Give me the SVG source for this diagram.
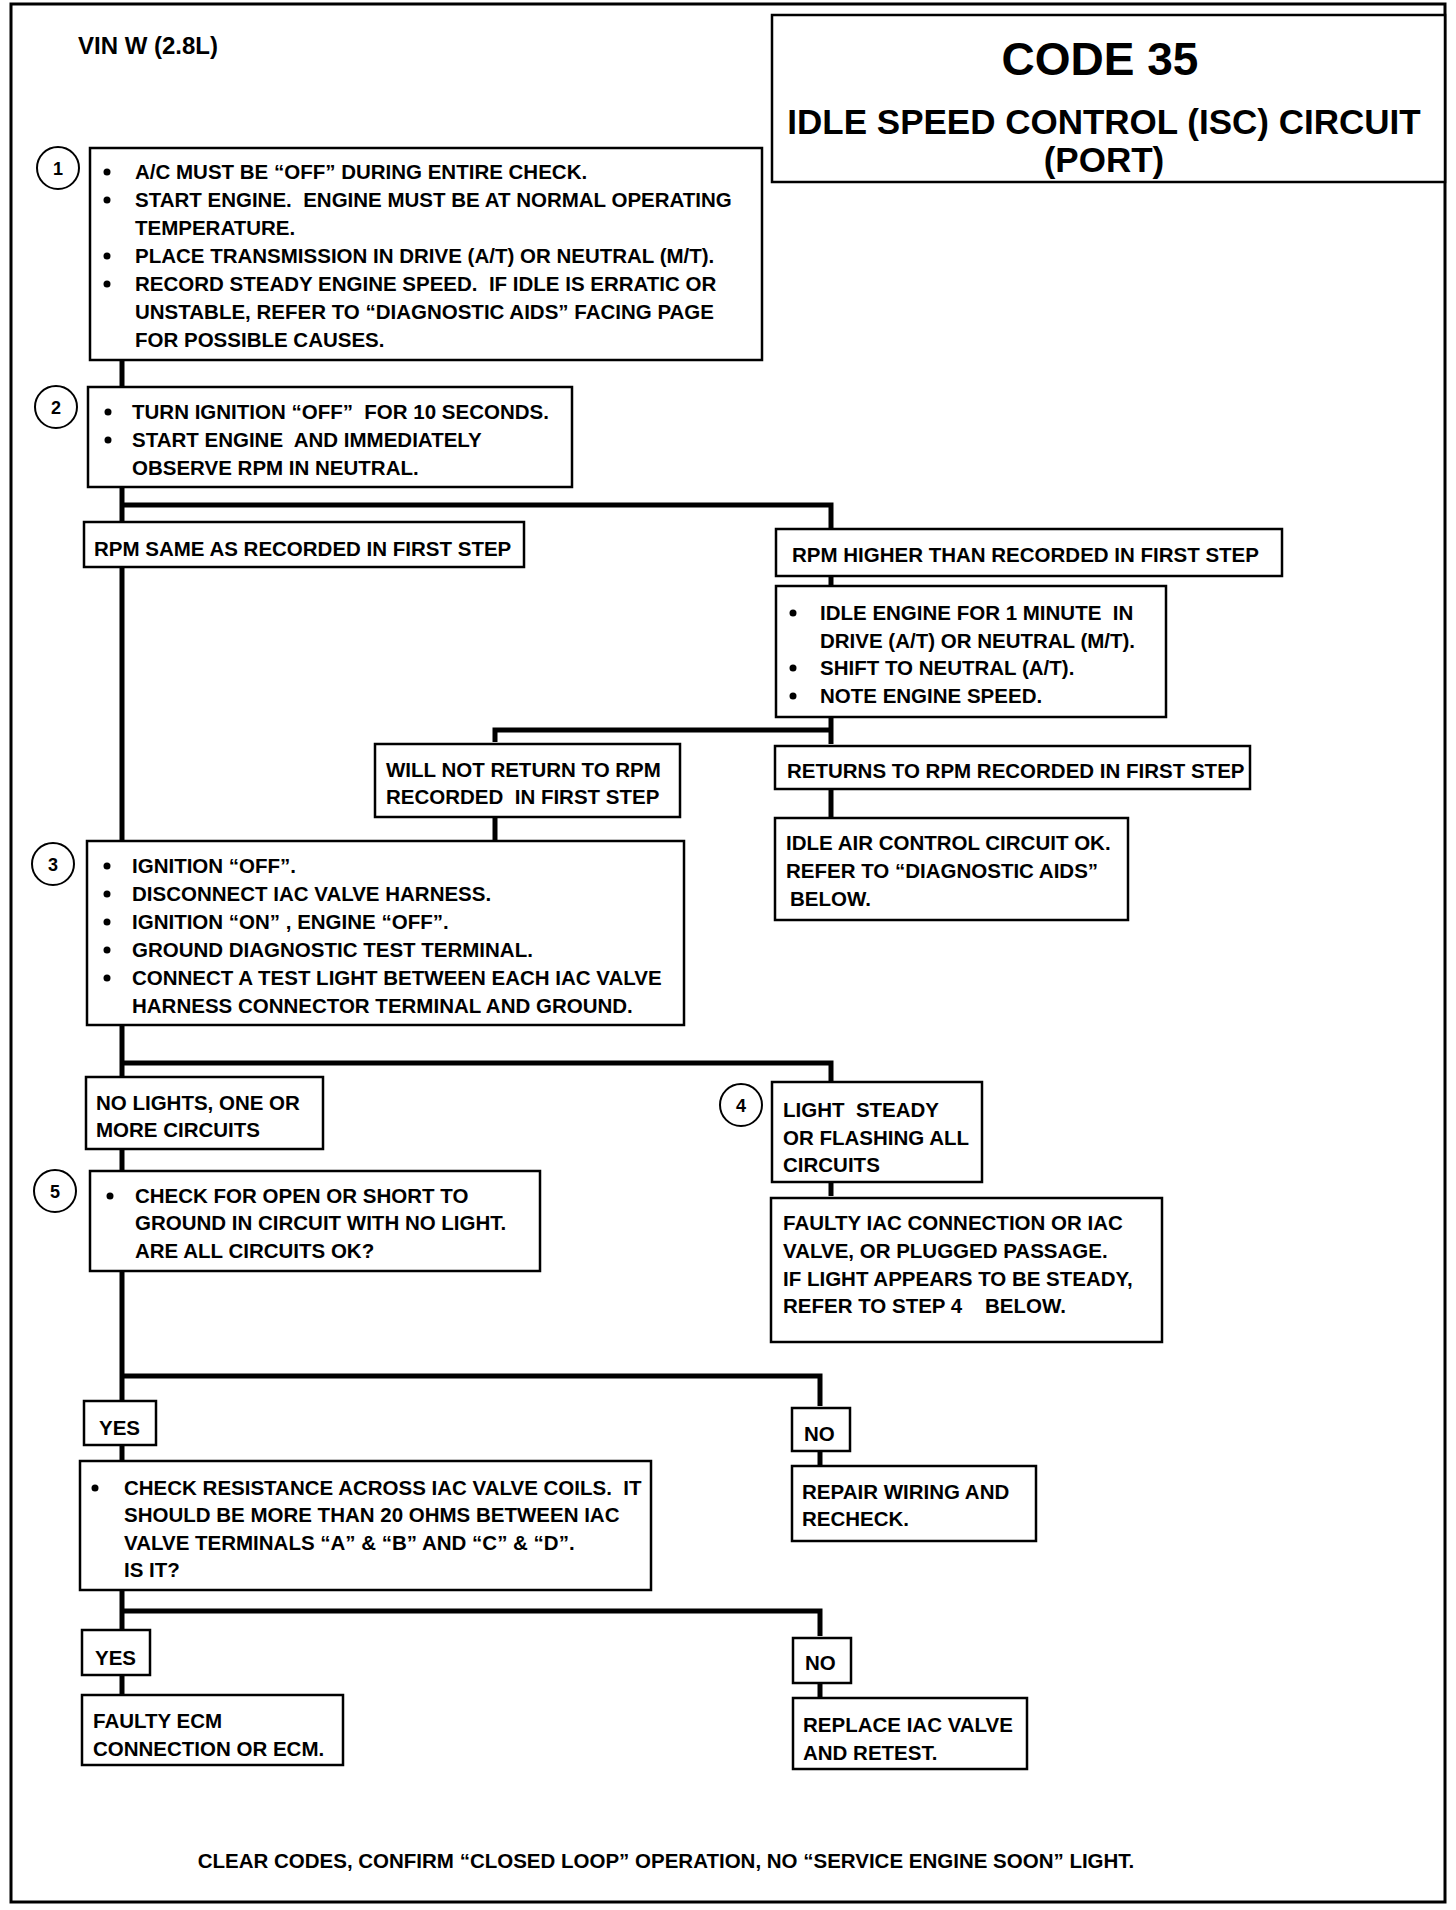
<svg xmlns="http://www.w3.org/2000/svg" width="1456" height="1910" viewBox="0 0 1456 1910">
<style>
.bg{fill:#fff}
.frame{fill:none;stroke:#000;stroke-width:3}
.box{fill:#fff;stroke:#000;stroke-width:2.5}
.ln{fill:none;stroke:#000;stroke-width:5;stroke-linejoin:miter}
.t{font-family:"Liberation Sans",Arial,sans-serif;font-weight:bold;font-size:20.5px;fill:#000;white-space:pre}
.vin{font-size:24px}
.code{font-size:46px;text-anchor:middle}
.sub{font-size:35px;text-anchor:middle}
.foot{text-anchor:middle}
.numc{fill:#fff;stroke:#000;stroke-width:2}
.numt{font-family:"Liberation Sans",Arial,sans-serif;font-weight:bold;font-size:18px;text-anchor:middle;fill:#000}
.b{fill:#000}
</style>
<rect class="bg" x="0" y="0" width="1456" height="1910"/>
<rect class="frame" x="11" y="4" width="1434" height="1898"/>

<g id="header">
<text class="t vin" x="78" y="54">VIN W (2.8L)</text>
</g>
<g id="title">
<rect class="box" x="772" y="15" width="673" height="167"/>
<text class="t code" x="1100" y="75">CODE 35</text>
<text class="t sub" x="1104" y="134">IDLE SPEED CONTROL (ISC) CIRCUIT</text>
<text class="t sub" x="1104" y="172">(PORT)</text>
</g>

<g id="connectors">
<path class="ln" d="M122 360 V1695"/>
<path class="ln" d="M122 505 H831 V528"/>
<path class="ln" d="M831 576 V586"/>
<path class="ln" d="M831 717 V744"/>
<path class="ln" d="M831 730 H495 V742"/>
<path class="ln" d="M831 789 V817"/>
<path class="ln" d="M495 817 V840"/>
<path class="ln" d="M122 1063 H831 V1082"/>
<path class="ln" d="M831 1181 V1196"/>
<path class="ln" d="M122 1376 H820 V1406"/>
<path class="ln" d="M820 1451 V1465"/>
<path class="ln" d="M122 1611 H820 V1636"/>
<path class="ln" d="M820 1682 V1698"/>
</g>

<g id="step1">
<circle class="numc" cx="58" cy="168" r="21"/>
<text class="numt" x="58" y="175">1</text>
<rect class="box" x="90" y="148" width="672" height="212"/>
<circle class="b" cx="107" cy="172" r="3.5"/>
<circle class="b" cx="107" cy="200" r="3.5"/>
<circle class="b" cx="107" cy="256" r="3.5"/>
<circle class="b" cx="107" cy="284" r="3.5"/>
<text class="t" x="135" y="179">A/C MUST BE “OFF” DURING ENTIRE CHECK.</text>
<text class="t" x="135" y="207">START ENGINE.  ENGINE MUST BE AT NORMAL OPERATING</text>
<text class="t" x="135" y="235">TEMPERATURE.</text>
<text class="t" x="135" y="263">PLACE TRANSMISSION IN DRIVE (A/T) OR NEUTRAL (M/T).</text>
<text class="t" x="135" y="291">RECORD STEADY ENGINE SPEED.  IF IDLE IS ERRATIC OR</text>
<text class="t" x="135" y="319">UNSTABLE, REFER TO “DIAGNOSTIC AIDS” FACING PAGE</text>
<text class="t" x="135" y="347">FOR POSSIBLE CAUSES.</text>
</g>

<g id="step2">
<circle class="numc" cx="56" cy="407" r="21"/>
<text class="numt" x="56" y="414">2</text>
<rect class="box" x="88" y="387" width="484" height="100"/>
<circle class="b" cx="108" cy="412" r="3.5"/>
<circle class="b" cx="108" cy="440" r="3.5"/>
<text class="t" x="132" y="419">TURN IGNITION “OFF”  FOR 10 SECONDS.</text>
<text class="t" x="132" y="447">START ENGINE  AND IMMEDIATELY</text>
<text class="t" x="132" y="475">OBSERVE RPM IN NEUTRAL.</text>
</g>

<g id="rpm-same">
<rect class="box" x="84" y="522" width="440" height="45"/>
<text class="t" x="94" y="556">RPM SAME AS RECORDED IN FIRST STEP</text>
</g>

<g id="rpm-higher">
<rect class="box" x="776" y="529" width="506" height="47"/>
<text class="t" x="792" y="562">RPM HIGHER THAN RECORDED IN FIRST STEP</text>
</g>

<g id="idle-engine">
<rect class="box" x="776" y="586" width="390" height="131"/>
<circle class="b" cx="793" cy="613" r="3.5"/>
<circle class="b" cx="793" cy="668" r="3.5"/>
<circle class="b" cx="793" cy="696" r="3.5"/>
<text class="t" x="820" y="620">IDLE ENGINE FOR 1 MINUTE  IN</text>
<text class="t" x="820" y="648">DRIVE (A/T) OR NEUTRAL (M/T).</text>
<text class="t" x="820" y="675">SHIFT TO NEUTRAL (A/T).</text>
<text class="t" x="820" y="703">NOTE ENGINE SPEED.</text>
</g>

<g id="will-not-return">
<rect class="box" x="375" y="744" width="305" height="73"/>
<text class="t" x="386" y="777">WILL NOT RETURN TO RPM</text>
<text class="t" x="386" y="804">RECORDED  IN FIRST STEP</text>
</g>

<g id="returns">
<rect class="box" x="775" y="746" width="475" height="43"/>
<text class="t" x="787" y="778">RETURNS TO RPM RECORDED IN FIRST STEP</text>
</g>

<g id="iac-ok">
<rect class="box" x="775" y="818" width="353" height="102"/>
<text class="t" x="786" y="850">IDLE AIR CONTROL CIRCUIT OK.</text>
<text class="t" x="786" y="878">REFER TO “DIAGNOSTIC AIDS”</text>
<text class="t" x="790" y="906">BELOW.</text>
</g>

<g id="step3">
<circle class="numc" cx="53" cy="864" r="21"/>
<text class="numt" x="53" y="871">3</text>
<rect class="box" x="87" y="841" width="597" height="184"/>
<circle class="b" cx="107" cy="866" r="3.5"/>
<circle class="b" cx="107" cy="894" r="3.5"/>
<circle class="b" cx="107" cy="922" r="3.5"/>
<circle class="b" cx="107" cy="950" r="3.5"/>
<circle class="b" cx="107" cy="978" r="3.5"/>
<text class="t" x="132" y="873">IGNITION “OFF”.</text>
<text class="t" x="132" y="901">DISCONNECT IAC VALVE HARNESS.</text>
<text class="t" x="132" y="929">IGNITION “ON” , ENGINE “OFF”.</text>
<text class="t" x="132" y="957">GROUND DIAGNOSTIC TEST TERMINAL.</text>
<text class="t" x="132" y="985">CONNECT A TEST LIGHT BETWEEN EACH IAC VALVE</text>
<text class="t" x="132" y="1013">HARNESS CONNECTOR TERMINAL AND GROUND.</text>
</g>

<g id="no-lights">
<rect class="box" x="86" y="1077" width="237" height="72"/>
<text class="t" x="96" y="1110">NO LIGHTS, ONE OR</text>
<text class="t" x="96" y="1137">MORE CIRCUITS</text>
</g>

<g id="step4">
<circle class="numc" cx="741" cy="1105" r="21"/>
<text class="numt" x="741" y="1112">4</text>
<rect class="box" x="772" y="1082" width="210" height="100"/>
<text class="t" x="783" y="1117">LIGHT  STEADY</text>
<text class="t" x="783" y="1145">OR FLASHING ALL</text>
<text class="t" x="783" y="1172">CIRCUITS</text>
</g>

<g id="faulty-iac">
<rect class="box" x="771" y="1198" width="391" height="144"/>
<text class="t" x="783" y="1230">FAULTY IAC CONNECTION OR IAC</text>
<text class="t" x="783" y="1258">VALVE, OR PLUGGED PASSAGE.</text>
<text class="t" x="783" y="1286">IF LIGHT APPEARS TO BE STEADY,</text>
<text class="t" x="783" y="1313">REFER TO STEP 4    BELOW.</text>
</g>

<g id="step5">
<circle class="numc" cx="55" cy="1191" r="21"/>
<text class="numt" x="55" y="1198">5</text>
<rect class="box" x="90" y="1171" width="450" height="100"/>
<circle class="b" cx="110" cy="1196" r="3.5"/>
<text class="t" x="135" y="1203">CHECK FOR OPEN OR SHORT TO</text>
<text class="t" x="135" y="1230">GROUND IN CIRCUIT WITH NO LIGHT.</text>
<text class="t" x="135" y="1258">ARE ALL CIRCUITS OK?</text>
</g>

<g id="yes1">
<rect class="box" x="84" y="1401" width="72" height="44"/>
<text class="t" x="99" y="1435">YES</text>
</g>

<g id="no1">
<rect class="box" x="792" y="1408" width="58" height="43"/>
<text class="t" x="804" y="1441">NO</text>
</g>

<g id="repair">
<rect class="box" x="792" y="1466" width="244" height="75"/>
<text class="t" x="802" y="1499">REPAIR WIRING AND</text>
<text class="t" x="802" y="1526">RECHECK.</text>
</g>

<g id="check-resistance">
<rect class="box" x="80" y="1461" width="571" height="129"/>
<circle class="b" cx="95" cy="1488" r="3.5"/>
<text class="t" x="124" y="1495">CHECK RESISTANCE ACROSS IAC VALVE COILS.  IT</text>
<text class="t" x="124" y="1522">SHOULD BE MORE THAN 20 OHMS BETWEEN IAC</text>
<text class="t" x="124" y="1550">VALVE TERMINALS “A” &amp; “B” AND “C” &amp; “D”.</text>
<text class="t" x="124" y="1577">IS IT?</text>
</g>

<g id="yes2">
<rect class="box" x="82" y="1630" width="68" height="45"/>
<text class="t" x="95" y="1665">YES</text>
</g>

<g id="faulty-ecm">
<rect class="box" x="82" y="1695" width="261" height="70"/>
<text class="t" x="93" y="1728">FAULTY ECM</text>
<text class="t" x="93" y="1756">CONNECTION OR ECM.</text>
</g>

<g id="no2">
<rect class="box" x="793" y="1638" width="58" height="45"/>
<text class="t" x="805" y="1670">NO</text>
</g>

<g id="replace">
<rect class="box" x="793" y="1698" width="234" height="71"/>
<text class="t" x="803" y="1732">REPLACE IAC VALVE</text>
<text class="t" x="803" y="1760">AND RETEST.</text>
</g>

<g id="footer">
<text class="t foot" x="666" y="1868">CLEAR CODES, CONFIRM “CLOSED LOOP” OPERATION, NO “SERVICE ENGINE SOON” LIGHT.</text>
</g>
</svg>
